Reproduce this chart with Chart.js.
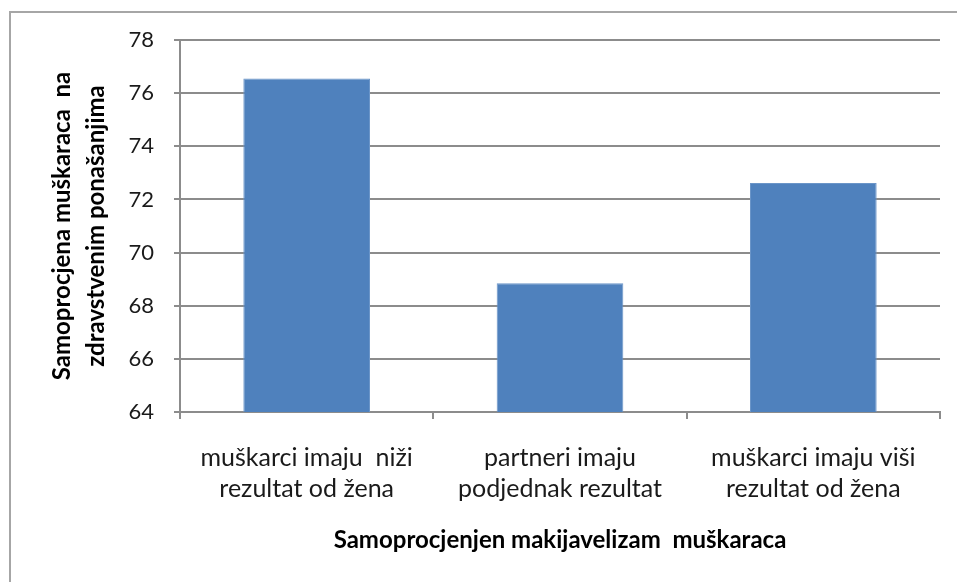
<!DOCTYPE html>
<html>
<head>
<meta charset="utf-8">
<script src="https://cdn.jsdelivr.net/npm/chart.js@4"></script>
<style>
  html, body { margin: 0; padding: 0; background: #fff; }
  #wrap { position: relative; width: 957px; height: 582px; }
</style>
</head>
<body>
<div id="wrap"><canvas id="c"></canvas></div>
<script>
const categories = [
  ["muškarci imaju  niži", "rezultat od žena"],
  ["partneri imaju", "podjednak rezultat"],
  ["muškarci imaju viši", "rezultat od žena"]
];
const values = [76.55, 68.85, 72.62];
const yTicks = { min: 64, max: 78, step: 2 };
const yTitle = ["Samoprocjena muškaraca  na", "zdravstvenim ponašanjima"];
const xTitle = "Samoprocjenjen makijavelizam  muškaraca";

const FONT = "Lato, 'Open Sans', sans-serif";
const GRID = "#8c8c8c";

const outerBox = {
  id: 'outerBox',
  beforeDraw(chart) {
    const ctx = chart.ctx;
    ctx.save();
    ctx.strokeStyle = '#a6a6a6';
    ctx.lineWidth = 2;
    ctx.strokeRect(10, 12, 1000, 1000);
    ctx.restore();
  }
};

new Chart(document.getElementById('c'), {
  type: 'bar',
  data: {
    labels: categories,
    datasets: [{
      data: values,
      backgroundColor: '#4f81bd',
      borderColor: '#6b95c8',
      borderWidth: 1,
      barPercentage: 0.5,
      categoryPercentage: 1.0
    }]
  },
  plugins: [outerBox],
  options: {
    responsive: true,
    maintainAspectRatio: false,
    animation: false,
    layout: { padding: { left: 0, right: 17, top: 40, bottom: 0 } },
    plugins: { legend: { display: false }, tooltip: { enabled: false } },
    scales: {
      x: {
        afterFit(s) { s.height = 170; },
        grid: { display: true, drawOnChartArea: false, drawTicks: true, tickLength: 7, color: GRID, lineWidth: 2, offset: true },
        border: { display: true, color: GRID, width: 2 },
        ticks: { color: '#1a1a1a', font: { family: FONT, size: 25, lineHeight: 1.24 }, padding: 23, maxRotation: 0, autoSkip: false },
        title: { display: true, text: xTitle, color: '#000', font: { family: FONT, size: 24, weight: 'bold' }, padding: { top: 0, bottom: 27 } }
      },
      y: {
        min: yTicks.min, max: yTicks.max,
        afterFit(s) { s.width = 180; },
        grid: { color: GRID, lineWidth: 2, drawTicks: true, tickLength: 6 },
        border: { display: true, color: GRID, width: 2 },
        ticks: { stepSize: yTicks.step, color: '#1a1a1a', font: { family: FONT, size: 22 }, padding: 20 },
        title: { display: true, text: yTitle, color: '#000', font: { family: FONT, size: 24, weight: 'bold', lineHeight: 1.42 }, padding: { top: 45, bottom: 0 } }
      }
    }
  }
});
</script>
</body>
</html>
